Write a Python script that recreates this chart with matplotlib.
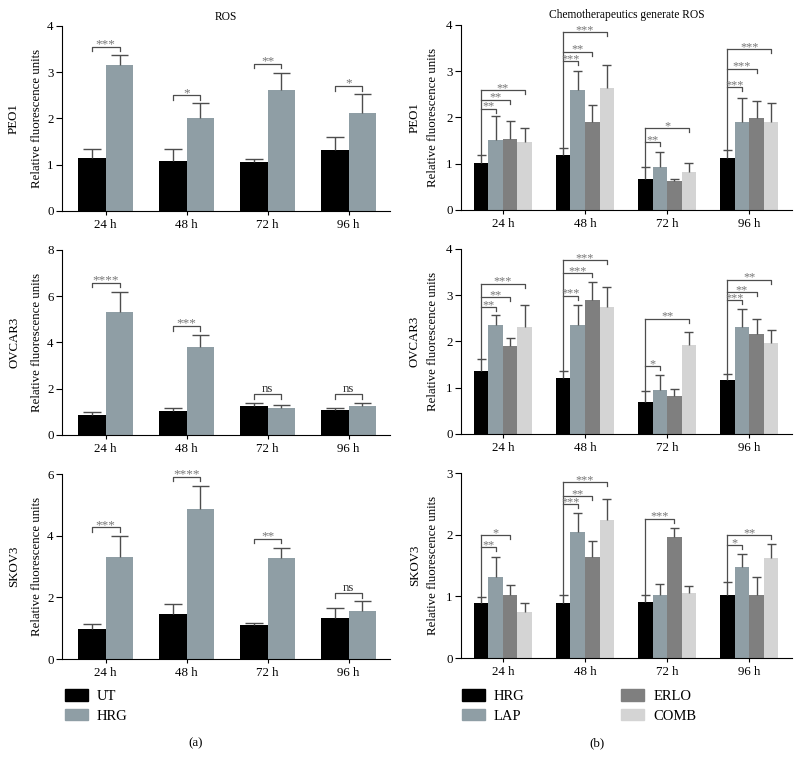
import numpy as np
import matplotlib
matplotlib.use("Agg")
import matplotlib.pyplot as plt
from matplotlib.patches import Patch

plt.rcParams["font.family"] = ["Liberation Serif", "DejaVu Serif"]

# -----------------------------
# Data
# -----------------------------

times = ["24 h", "48 h", "72 h", "96 h"]
cells = ["PEO1", "OVCAR3", "SKOV3"]

# (a) ROS: UT vs HRG
peo1_ut = [1.15, 1.07, 1.05, 1.32]
peo1_ut_err = [0.20, 0.26, 0.07, 0.28]
peo1_hrg = [3.15, 2.02, 2.62, 2.12]
peo1_hrg_err = [0.22, 0.31, 0.36, 0.40]
peo1_sig = ["***", "*", "**", "*"]
peo1_sig_y = [3.55, 2.50, 3.18, 2.70]

ovcar3_ut = [0.85, 1.05, 1.25, 1.08]
ovcar3_ut_err = [0.15, 0.13, 0.15, 0.10]
ovcar3_hrg = [5.30, 3.80, 1.15, 1.27]
ovcar3_hrg_err = [0.90, 0.52, 0.13, 0.11]
ovcar3_sig = ["****", "***", "ns", "ns"]
ovcar3_sig_y = [6.58, 4.71, 1.77, 1.77]

skov3_ut = [0.98, 1.45, 1.10, 1.34]
skov3_ut_err = [0.14, 0.32, 0.06, 0.30]
skov3_hrg = [3.31, 4.86, 3.29, 1.55]
skov3_hrg_err = [0.67, 0.76, 0.32, 0.32]
skov3_sig = ["***", "****", "**", "ns"]
skov3_sig_y = [4.27, 5.91, 3.90, 2.13]

# (b) Chemotherapeutics: HRG, LAP, ERLO, COMB
peo1_b = {
    "HRG": ([1.02, 1.18, 0.68, 1.13], [0.16, 0.16, 0.24, 0.17]),
    "LAP": ([1.52, 2.60, 0.93, 1.90], [0.51, 0.41, 0.33, 0.53]),
    "ERLO": ([1.54, 1.90, 0.62, 1.98], [0.38, 0.36, 0.06, 0.37]),
    "COMB": ([1.47, 2.63, 0.83, 1.90], [0.30, 0.50, 0.18, 0.41]),
}
peo1_b_sig = [
    [(1, "**", 2.19), (2, "**", 2.38), (3, "**", 2.59)],
    [(1, "***", 3.22), (2, "**", 3.42), (3, "***", 3.84)],
    [(1, "**", 1.46), (3, "*", 1.77)],
    [(1, "***", 2.65), (2, "***", 3.05), (3, "***", 3.48)],
]

ovcar3_b = {
    "HRG": ([1.36, 1.21, 0.70, 1.16], [0.26, 0.15, 0.23, 0.14]),
    "LAP": ([2.36, 2.36, 0.96, 2.31], [0.22, 0.43, 0.32, 0.39]),
    "ERLO": ([1.90, 2.89, 0.82, 2.17], [0.18, 0.39, 0.15, 0.32]),
    "COMB": ([2.32, 2.75, 1.93, 1.97], [0.47, 0.42, 0.28, 0.28]),
}
ovcar3_b_sig = [
    [(1, "**", 2.74), (2, "**", 2.96), (3, "***", 3.25)],
    [(1, "***", 2.99), (2, "***", 3.48), (3, "***", 3.76)],
    [(1, "*", 1.46), (3, "**", 2.49)],
    [(1, "***", 2.89), (2, "**", 3.06), (3, "**", 3.33)],
]

skov3_b = {
    "HRG": ([0.90, 0.90, 0.91, 1.03], [0.09, 0.13, 0.12, 0.20]),
    "LAP": ([1.32, 2.05, 1.02, 1.48], [0.32, 0.30, 0.18, 0.21]),
    "ERLO": ([1.03, 1.64, 1.97, 1.03], [0.15, 0.26, 0.14, 0.28]),
    "COMB": ([0.75, 2.24, 1.06, 1.62], [0.15, 0.34, 0.11, 0.23]),
}
skov3_b_sig = [
    [(1, "**", 1.80), (2, "*", 1.99)],
    [(1, "***", 2.49), (2, "**", 2.62), (3, "***", 2.85)],
    [(2, "***", 2.26)],
    [(1, "*", 1.83), (3, "**", 1.99)],
]

# -----------------------------
# Styles
# -----------------------------

left_colors = {"UT": "#000000", "HRG": "#8f9ea5"}
right_colors = {"HRG": "#000000", "LAP": "#8f9ea5",
                "ERLO": "#7f7f7f", "COMB": "#d4d4d4"}
err_color = "#4d4d4d"
line_color = "#4d4d4d"
star_color = "#777777"
fs = 9.3

fig = plt.figure(figsize=(7.97, 7.68), dpi=100)

rows_bottom = [0.7253, 0.4336, 0.1419]
ax_h = 0.2409
left_ymax = [4, 8, 6]
left_ystep = [1, 2, 2]
right_ymax = [4, 4, 3]


def style_axis(ax, ymax, ystep, xlim):
    ax.set_xlim(*xlim)
    ax.set_ylim(0, ymax)
    ax.set_yticks(np.arange(0, ymax + 0.01, ystep))
    ax.set_xticks(range(len(times)))
    ax.set_xticklabels(times, fontsize=fs)
    ax.tick_params(axis="y", labelsize=fs, length=4, width=0.8, pad=2)
    ax.tick_params(axis="x", length=3, width=0.8, pad=3)
    for s in ["top", "right"]:
        ax.spines[s].set_visible(False)
    for s in ["left", "bottom"]:
        ax.spines[s].set_linewidth(0.8)


def draw_err(ax, x, vals, errs, cap):
    x = np.asarray(x)
    tops = np.asarray(vals) + np.asarray(errs)
    ax.vlines(x, vals, tops, color=err_color, lw=1.0, zorder=3)
    ax.hlines(tops, x - cap, x + cap, color=err_color, lw=1.0, zorder=3)


# -----------------------------
# (a) panels
# -----------------------------

left_data = [
    (peo1_ut, peo1_ut_err, peo1_hrg, peo1_hrg_err, peo1_sig, peo1_sig_y),
    (ovcar3_ut, ovcar3_ut_err, ovcar3_hrg, ovcar3_hrg_err, ovcar3_sig, ovcar3_sig_y),
    (skov3_ut, skov3_ut_err, skov3_hrg, skov3_hrg_err, skov3_sig, skov3_sig_y),
]

w = 0.34
xpos = np.arange(len(times))
for r, (ut, ut_e, hrg, hrg_e, sig, sig_y) in enumerate(left_data):
    ax = fig.add_axes([0.0778, rows_bottom[r], 0.4115, ax_h])
    ymax = left_ymax[r]
    ax.bar(xpos - w / 2, ut, w, color=left_colors["UT"], zorder=2)
    ax.bar(xpos + w / 2, hrg, w, color=left_colors["HRG"], zorder=2)
    draw_err(ax, xpos - w / 2, ut, ut_e, 0.11)
    draw_err(ax, xpos + w / 2, hrg, hrg_e, 0.11)
    tick = ymax * 4.5 / 185
    for i in range(len(times)):
        x0, x1 = xpos[i] - w / 2, xpos[i] + w / 2
        y = sig_y[i]
        ax.plot([x0, x0, x1, x1], [y - tick, y, y, y - tick],
                color=line_color, lw=0.9, clip_on=False)
        is_ns = sig[i] == "ns"
        ax.annotate(sig[i], ((x0 + x1) / 2, y),
                    xytext=(0, 1.5 if is_ns else -0.5),
                    textcoords="offset points", ha="center", va="baseline",
                    fontsize=fs if is_ns else 9.5,
                    color="#333333" if is_ns else star_color,
                    annotation_clip=False)
    style_axis(ax, ymax, left_ystep[r], (-0.54, 3.51))
    ax.set_ylabel("Relative fluorescence units", fontsize=fs, labelpad=3)
    ax.text(-48 / 328, 0.5, cells[r], transform=ax.transAxes, rotation=90,
            ha="center", va="center", fontsize=fs)
    if r == 0:
        ax.set_title("ROS", fontsize=8.3, pad=4)

# -----------------------------
# (b) panels
# -----------------------------

right_data = [(peo1_b, peo1_b_sig), (ovcar3_b, ovcar3_b_sig), (skov3_b, skov3_b_sig)]
groups = ["HRG", "LAP", "ERLO", "COMB"]
wb = 0.177
offsets = (np.arange(4) - 1.5) * wb

for r, (data, sigs) in enumerate(right_data):
    ax = fig.add_axes([0.5784, rows_bottom[r] + 0.0013, 0.4153, ax_h])
    ymax = right_ymax[r]
    for g, name in enumerate(groups):
        vals, errs = data[name]
        ax.bar(xpos + offsets[g], vals, wb, color=right_colors[name], zorder=2)
        draw_err(ax, xpos + offsets[g], vals, errs, 0.055)
    tick = ymax * 4 / 185
    for i in range(len(times)):
        x0 = xpos[i] + offsets[0]
        top0 = data["HRG"][0][i] + data["HRG"][1][i]
        highest = max(s[2] for s in sigs[i])
        ax.plot([x0, x0], [top0, highest], color=line_color, lw=0.9, clip_on=False)
        for tgt, lab, y in sigs[i]:
            x1 = xpos[i] + offsets[tgt]
            ax.plot([x0, x1, x1], [y, y, y - tick], color=line_color, lw=0.9,
                    clip_on=False)
            ax.annotate(lab, ((x0 + x1) / 2, y), xytext=(0, -0.6),
                        textcoords="offset points", ha="center", va="baseline",
                        fontsize=8.8, color=star_color, annotation_clip=False)
    style_axis(ax, ymax, 1, (-0.51, 3.52))
    ax.set_ylabel("Relative fluorescence units", fontsize=fs, labelpad=5)
    ax.text(-46 / 331, 0.5, cells[r], transform=ax.transAxes, rotation=90,
            ha="center", va="center", fontsize=fs)
    if r == 0:
        ax.set_title("Chemotherapeutics generate ROS", fontsize=8.3, pad=5)

# -----------------------------
# Legends and panel labels
# -----------------------------

left_handles = [Patch(color=left_colors[k], label=k) for k in ["UT", "HRG"]]
fig.legend(handles=left_handles, loc="upper left",
           bbox_to_anchor=(65 / 797, 1 - 689 / 768), frameon=False,
           fontsize=10.5, borderpad=0, borderaxespad=0, handlelength=1.6,
           handleheight=0.85, handletextpad=0.6, labelspacing=0.4)

right_handles = [Patch(color=right_colors[k], label=k) for k in groups]
fig.legend(handles=right_handles, loc="upper left", ncol=2,
           bbox_to_anchor=(462 / 797, 1 - 689 / 768), frameon=False,
           fontsize=10.5, borderpad=0, borderaxespad=0, handlelength=1.6,
           handleheight=0.85, handletextpad=0.6, labelspacing=0.4,
           columnspacing=6.6)

fig.text(196 / 797, 1 - 743 / 768, "(a)", ha="center", va="center", fontsize=fs)
fig.text(597 / 797, 1 - 743 / 768, "(b)", ha="center", va="center", fontsize=fs)

fig.savefig("out.png", dpi=100)
